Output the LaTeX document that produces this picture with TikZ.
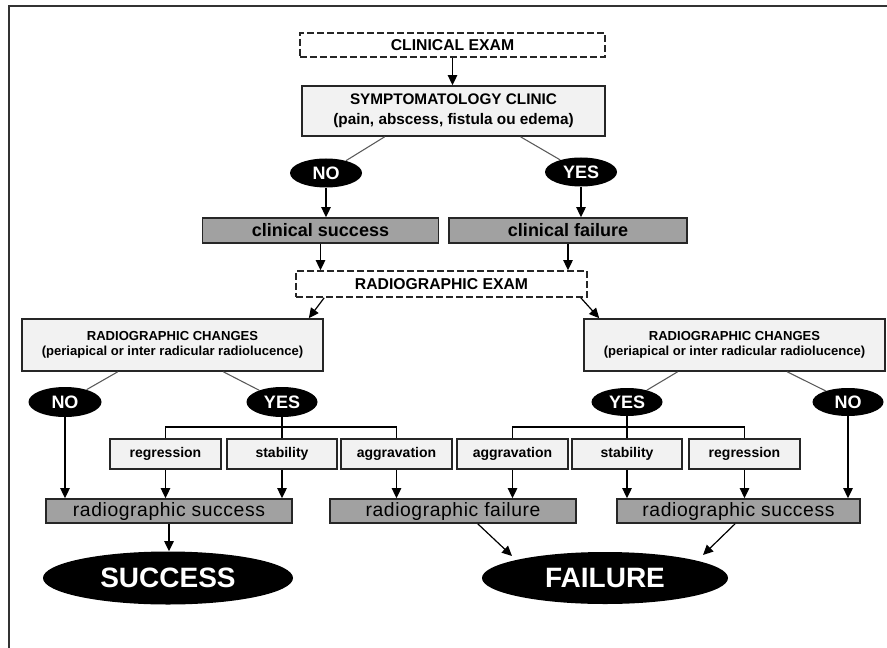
\documentclass[tikz,border=0pt]{standalone}
\usepackage{fontspec}
\setmainfont{Liberation Sans}
\newfontfamily\radfont[LetterSpace=3]{Liberation Sans}
\usetikzlibrary{shapes.geometric,arrows.meta,calc}
\begin{document}
\begin{tikzpicture}[x=0.75pt,y=-0.75pt,
  sz/.style 2 args={minimum width=#1*0.75pt,minimum height=#2*0.75pt},
  base/.style={rectangle,inner sep=0pt,align=center,line width=1.2pt,draw=black!85},
  dbox/.style={base,dash pattern=on 5pt off 2.5pt,fill=white,font=\bfseries\fontsize{11.8}{15}\selectfont},
  lbox/.style={base,fill=black!5},
  topfont/.style={font=\bfseries\fontsize{11.5}{15}\selectfont},
  rcfont/.style={font=\bfseries\fontsize{9.8}{11}\selectfont},
  smallbox/.style={base,fill=black!5,font=\bfseries\fontsize{10.5}{12}\selectfont,sz={111}{30}},
  clinbox/.style={base,fill=black!37,font=\bfseries\fontsize{13.5}{15}\selectfont,sz={236}{25}},
  radbox/.style={base,fill=black!37,font=\radfont\fontsize{14.5}{16}\selectfont,sz={245}{24}},
  oval/.style={ellipse,fill=black,inner sep=0pt,text=white,font=\bfseries\fontsize{13.5}{15}\selectfont,sz={72}{29}},
  bigoval/.style={ellipse,fill=black,inner sep=0pt,text=white,font=\bfseries\fontsize{21}{24}\selectfont},
  arr/.style={line width=1.1pt,-{Triangle[length=7.5pt,width=7pt]}},
  diagarr/.style={line width=0.9pt,-{Triangle[length=7.5pt,width=7pt]}},
  slim/.style={line width=0.8pt,draw=black!65},
  branch/.style={line width=1.1pt}
]
\useasboundingbox (0,0) rectangle (887,648);
\draw[line width=1.5pt,black!80] (9,648) -- (9,6) -- (887,6);

% top part
\node[dbox,sz={305}{24}] (ce) at (452.5,45) {CLINICAL EXAM};
\node[lbox,topfont,sz={303}{50}] (sc) at (453.5,111) {SYMPTOMATOLOGY CLINIC\\(pain, abscess, fistula ou edema)};
\node[oval] (no1) at (326,173) {NO};
\node[oval] (yes1) at (581,172) {YES};
\node[clinbox] (cs) at (320.5,230.5) {clinical success};
\node[clinbox,sz={238}{25}] (cf) at (568,230.5) {clinical failure};
\node[dbox,sz={291}{26}] (re) at (441.5,284) {RADIOGRAPHIC EXAM};

% radiographic change boxes
\node[lbox,rcfont,sz={301}{52}] (rcl) at (172.5,345) {RADIOGRAPHIC CHANGES\\(periapical or inter radicular radiolucence)};
\node[lbox,rcfont,sz={301}{52}] (rcr) at (734.5,345) {RADIOGRAPHIC CHANGES\\(periapical or inter radicular radiolucence)};
\node[oval,sz={73}{30}] (nol) at (65,402) {NO};
\node[oval,sz={71}{30}] (yesl) at (282,402) {YES};
\node[oval,sz={71}{28}] (yesr) at (627,402) {YES};
\node[oval,sz={71}{28}] (nor) at (848,402) {NO};

% small boxes
\node[smallbox] (reg1) at (165.5,454) {regression};
\node[smallbox,sz={110}{30}] (sta1) at (282,454) {\raisebox{2pt}{stability}};
\node[smallbox] (agg1) at (396.5,454) {aggravation};
\node[smallbox] (agg2) at (512.5,454) {aggravation};
\node[smallbox,sz={110}{30}] (sta2) at (627,454) {\raisebox{2pt}{stability}};
\node[smallbox] (reg2) at (744.5,454) {regression};

% result boxes
\node[radbox,sz={246}{24}] (rs1) at (169,511) {radiographic success};
\node[radbox,sz={246}{24}] (rf) at (453,511) {radiographic failure};
\node[radbox,sz={243}{24}] (rs2) at (738.5,511) {radiographic success};

\node[bigoval,sz={250}{53}] (succ) at (168,578) {SUCCESS};
\node[bigoval,sz={246}{52}] (fail) at (605,578) {FAILURE};

% connectors
\draw[arr] (ce.south) -- (ce.south |- sc.north);
\draw[slim] ($(sc.south west)!0.274!(sc.south east)$) -- (no1);
\draw[slim] ($(sc.south west)!0.72!(sc.south east)$) -- (yes1);
\draw[arr] (no1.south) -- (no1.south |- cs.north);
\draw[arr] (yes1.south) -- (yes1.south |- cf.north);
\draw[arr] (cs.south) -- (cs.south |- re.north);
\draw[arr] (cf.south) -- (cf.south |- re.north);
\draw[diagarr] ($(re.south west)+(29,0)$) -- ($(rcl.north east)+(-15,0)$);
\draw[diagarr] ($(re.south east)+(-7,0)$) -- ($(rcr.north west)+(16,0)$);

\draw[slim] ($(rcl.south west)!0.319!(rcl.south east)$) -- (nol);
\draw[slim] ($(rcl.south west)!0.668!(rcl.south east)$) -- (yesl);
\draw[slim] ($(rcr.south west)!0.312!(rcr.south east)$) -- (yesr);
\draw[slim] ($(rcr.south west)!0.674!(rcr.south east)$) -- (nor);

\coordinate (bl) at (282,427);
\draw[branch] (reg1.north) |- (bl) -| (agg1.north);
\draw[branch] (yesl.south) -- (sta1.north);
\coordinate (br) at (627,427);
\draw[branch] (agg2.north) |- (br) -| (reg2.north);
\draw[branch] (yesr.south) -- (sta2.north);

\draw[arr] (nol.south) -- (nol.south |- rs1.north);
\draw[arr] (reg1.south) -- (reg1.south |- rs1.north);
\draw[arr] (sta1.south) -- (sta1.south |- rs1.north);
\draw[arr] (agg1.south) -- (agg1.south |- rf.north);
\draw[arr] (agg2.south) -- (agg2.south |- rf.north);
\draw[arr] (sta2.south) -- (sta2.south |- rs2.north);
\draw[arr] (reg2.south) -- (reg2.south |- rs2.north);
\draw[arr] (nor.south) -- (nor.south |- rs2.north);

\draw[arr] (rs1.south) -- (rs1.south |- succ.north);
\draw[diagarr] ($(rf.south west)!0.6!(rf.south east)$) -- ($(fail)+(-93,-22)$);
\draw[diagarr] ($(rs2.south west)!0.486!(rs2.south east)$) -- ($(fail)+(98,-23)$);
\end{tikzpicture}
\end{document}
